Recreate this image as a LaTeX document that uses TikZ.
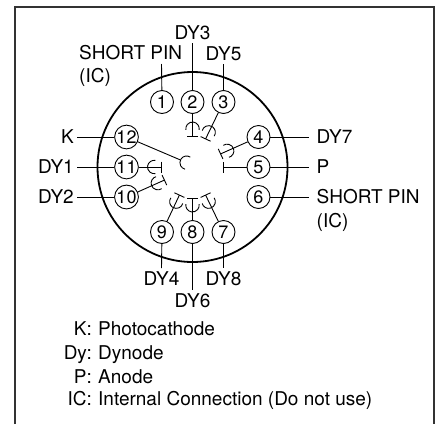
\documentclass[tikz,border=0pt]{standalone}
\usepackage{fontspec}
\setmainfont{TeX Gyre Heros}
\usetikzlibrary{positioning}

\tikzset{
    pin/.style={circle, draw, line width=0.9pt, minimum size=23pt, inner sep=0pt, font=\fontsize{18}{18}\selectfont},
    lead/.style={line width=0.9pt},
    tag/.style={inner sep=0pt, font=\fontsize{19}{19}\selectfont},
}

\begin{document}
\begin{tikzpicture}[x=1pt, y=1pt, node distance=3pt]
    \useasboundingbox (-192.5,-257) rectangle (245.5,167);
    \draw[line width=1.4pt, black!80] (-177.5,-257) -- (-177.5,160) -- (241.5,160) -- (241.5,-257);
    \draw[line width=1.8pt] (0,0) circle (95);

    % pins
    \node[pin] (p1) at (-30.5,65) {1};
    \node[pin] (p2) at (0,65) {2};
    \node[pin] (p3) at (31,65) {3};
    \node[pin] (p4) at (66,30) {4};
    \node[pin] (p5) at (66,0) {5};
    \node[pin] (p6) at (66,-30) {6};
    \node[pin] (p7) at (31,-65) {7};
    \node[pin] (p8) at (0,-65) {8};
    \node[pin] (p9) at (-30.5,-65) {9};
    \node[pin] (p10) at (-66,-30) {10};
    \node[pin] (p11) at (-66,0) {11};
    \node[pin] (p12) at (-66,30) {12};

    % dynodes
    \foreach \num/\ang in {2/90, 3/65, 4/25, 7/-65, 8/-90, 9/-115, 10/205, 11/180} {
        \coordinate (b\num) at (\ang:31);
        \draw[lead] (p\num) -- (b\num);
        \begin{scope}[shift={(b\num)}, rotate=\ang]
            \draw[lead] (0,-5.5) -- (0,5.5);
            \draw[lead] (6.1,-6.6) arc[start angle=-100, end angle=100, radius=6.7];
        \end{scope}
    }

    % anode
    \coordinate (b5) at (31,0);
    \draw[lead] (p5) -- (b5);
    \draw[lead] (31,-5.5) -- (31,5.5);

    % photocathode
    \coordinate (cath) at (-12,7);
    \draw[lead] (p12) -- (cath);
    \draw[lead] (-2.2,9.9) arc[start angle=56.5, end angle=256.5, radius=6.7];

    % outer leads
    \coordinate (e1) at (-31,103);
    \coordinate (e2) at (0,124);
    \coordinate (e3) at (31,103);
    \coordinate (e4) at (116,30);
    \coordinate (e5) at (116,0);
    \coordinate (e6) at (116,-30);
    \coordinate (e7) at (31,-101);
    \coordinate (e8) at (0,-123);
    \coordinate (e9) at (-31,-101);
    \coordinate (e10) at (-115.5,-30);
    \coordinate (e11) at (-115.5,0);
    \coordinate (e12) at (-115.5,30);
    \foreach \num in {1,...,12} {
        \draw[lead] (p\num) -- (e\num);
    }

    % labels
    \node[tag, above=3pt of e2] (dy3) {DY3};
    \node[tag, above=3pt of e3] (dy5) {DY5};
    \node[tag, anchor=west] (shortA) at (-113.5,114) {SHORT PIN};
    \node[tag, anchor=west] (icA) at (-113.5,90) {(IC)};
    \node[tag, right=8pt of e4] (dy7) {DY7};
    \node[tag, right=8pt of e5] (anode) {P};
    \node[tag, right=8pt of e6] (shortB) {SHORT PIN};
    \node[tag, anchor=west] (icB) at (124,-55) {(IC)};
    \node[tag, below=3pt of e7] (dy8) {DY8};
    \node[tag, below=3pt of e8] (dy6) {DY6};
    \node[tag, below=3pt of e9] (dy4) {DY4};
    \node[tag, left=3pt of e10] (dy2) {DY2};
    \node[tag, left=3pt of e11] (dy1) {DY1};
    \node[tag, left=3pt of e12] (cathode) {K};

    % legend
    \node[tag, anchor=base east] (keyK) at (-100.5,-168) {K:};
    \node[tag, anchor=base east] (keyDy) at (-100.5,-192) {Dy:};
    \node[tag, anchor=base east] (keyP) at (-100.5,-216) {P:};
    \node[tag, anchor=base east] (keyIC) at (-100.5,-238) {IC:};
    \node[tag, base right=6pt of keyK] (valK) {Photocathode};
    \node[tag, base right=6pt of keyDy] (valDy) {Dynode};
    \node[tag, base right=6pt of keyP] (valP) {Anode};
    \node[tag, base right=6pt of keyIC] (valIC) {Internal Connection (Do not use)};
\end{tikzpicture}
\end{document}
